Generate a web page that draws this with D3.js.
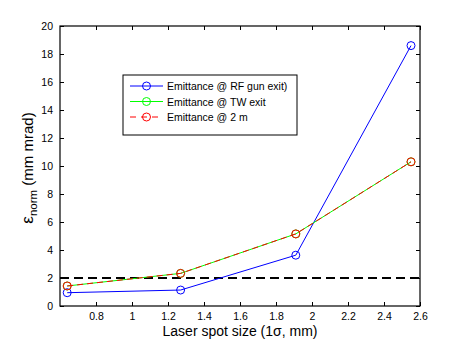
<!DOCTYPE html>
<html>
<head>
<meta charset="utf-8">
<script src="https://cdn.jsdelivr.net/npm/d3@7"></script>
<style>
body { margin: 0; background: #fff; }
text { font-family: "Liberation Sans", Arial, sans-serif; }
</style>
</head>
<body>
<div id="chart"></div>
<script>
// spot sizes (1 sigma, mm)
var spotSize = [0.64, 1.27, 1.91, 2.55];
// emittance values (mm mrad)
var gunExit = [0.95, 1.14, 3.63, 18.6];
var twExit = [1.43, 2.33, 5.15, 10.3];
var at2m = [1.43, 2.33, 5.15, 10.3];
var limitValue = 2;

var xTicks = [0.8, 1, 1.2, 1.4, 1.6, 1.8, 2, 2.2, 2.4, 2.6];
var yTicks = [0, 2, 4, 6, 8, 10, 12, 14, 16, 18, 20];
var legendLabels = ["Emittance @ RF gun exit)", "Emittance @ TW exit", "Emittance @ 2 m"];

var w = 463, h = 345;
var plotL = 60, plotR = 420, plotT = 26, plotB = 306;

var svg = d3.select("#chart").append("svg")
    .attr("width", w).attr("height", h);

var x = d3.scaleLinear().domain([0.6, 2.6]).range([plotL, plotR]);
var y = d3.scaleLinear().domain([0, 20]).range([plotB, plotT]);

// axes with inward ticks (matlab style box)
svg.append("g").attr("transform", "translate(0," + plotB + ")")
    .call(d3.axisBottom(x).tickValues(xTicks).tickSizeInner(-4).tickSizeOuter(0).tickPadding(7)
        .tickFormat(d3.format("")))
    .call(function(g) {
        g.select(".domain").remove();
        g.selectAll("text").attr("font-size", 10.5).attr("fill", "#000");
    });
svg.append("g").attr("transform", "translate(0," + plotT + ")")
    .call(d3.axisTop(x).tickValues(xTicks).tickSizeInner(-4).tickSizeOuter(0).tickFormat(""))
    .call(function(g) { g.select(".domain").remove(); });
svg.append("g").attr("transform", "translate(" + plotL + ",0)")
    .call(d3.axisLeft(y).tickValues(yTicks).tickSizeInner(-4).tickSizeOuter(0).tickPadding(7))
    .call(function(g) {
        g.select(".domain").remove();
        g.selectAll("text").attr("font-size", 10.5).attr("fill", "#000");
    });
svg.append("g").attr("transform", "translate(" + plotR + ",0)")
    .call(d3.axisRight(y).tickValues(yTicks).tickSizeInner(-4).tickSizeOuter(0).tickFormat(""))
    .call(function(g) { g.select(".domain").remove(); });

svg.append("rect")
    .attr("x", plotL).attr("y", plotT)
    .attr("width", plotR - plotL).attr("height", plotB - plotT)
    .attr("fill", "none").attr("stroke", "#000").attr("stroke-width", 1.2);

// dashed reference line at 2 mm mrad
svg.append("line")
    .attr("x1", x(0.6)).attr("x2", x(2.6))
    .attr("y1", y(limitValue)).attr("y2", y(limitValue))
    .attr("stroke", "#000").attr("stroke-width", 1.8)
    .attr("stroke-dasharray", "9,5");

var series = [
    { values: gunExit, color: "#0000ff", dash: null },
    { values: twExit, color: "#00ff00", dash: null },
    { values: at2m, color: "#ff0000", dash: "6,4" }
];

var line = d3.line()
    .x(function(d, i) { return x(spotSize[i]); })
    .y(function(d) { return y(d); });

series.forEach(function(s) {
    svg.append("path")
        .datum(s.values)
        .attr("d", line)
        .attr("fill", "none")
        .attr("stroke", s.color)
        .attr("stroke-width", 1)
        .attr("stroke-dasharray", s.dash);
    svg.selectAll(null)
        .data(s.values)
        .enter()
        .append("circle")
        .attr("cx", function(d, i) { return x(spotSize[i]); })
        .attr("cy", function(d) { return y(d); })
        .attr("r", 4)
        .attr("fill", "none")
        .attr("stroke", s.color)
        .attr("stroke-width", 1);
});

// legend
var lg = svg.append("g");
lg.append("rect")
    .attr("x", 123).attr("y", 75).attr("width", 174).attr("height", 60)
    .attr("fill", "#fff").attr("stroke", "#000").attr("stroke-width", 1);
series.forEach(function(s, i) {
    var ly = 86 + i * 15.5;
    lg.append("line")
        .attr("x1", 130).attr("x2", 163).attr("y1", ly).attr("y2", ly)
        .attr("stroke", s.color).attr("stroke-width", 1)
        .attr("stroke-dasharray", s.dash ? "6,5" : null);
    lg.append("circle")
        .attr("cx", 146.5).attr("cy", ly).attr("r", 4)
        .attr("fill", "none").attr("stroke", s.color);
    lg.append("text")
        .attr("x", 167).attr("y", ly + 4)
        .attr("font-size", 10.5)
        .text(legendLabels[i]);
});

// axis labels
svg.append("text")
    .attr("x", (plotL + plotR) / 2).attr("y", 336)
    .attr("text-anchor", "middle")
    .attr("font-size", 14)
    .text("Laser spot size (1σ, mm)");

var yl = svg.append("text")
    .attr("transform", "translate(33," + ((plotT + plotB) / 2 + 2) + ") rotate(-90)")
    .attr("text-anchor", "middle")
    .attr("font-size", 15);
yl.append("tspan").attr("font-size", 17).text("ε");
yl.append("tspan").attr("font-size", 11.5).attr("dy", 4).text("norm");
yl.append("tspan").attr("dy", -4).text(" (mm mrad)");
</script>
</body>
</html>
